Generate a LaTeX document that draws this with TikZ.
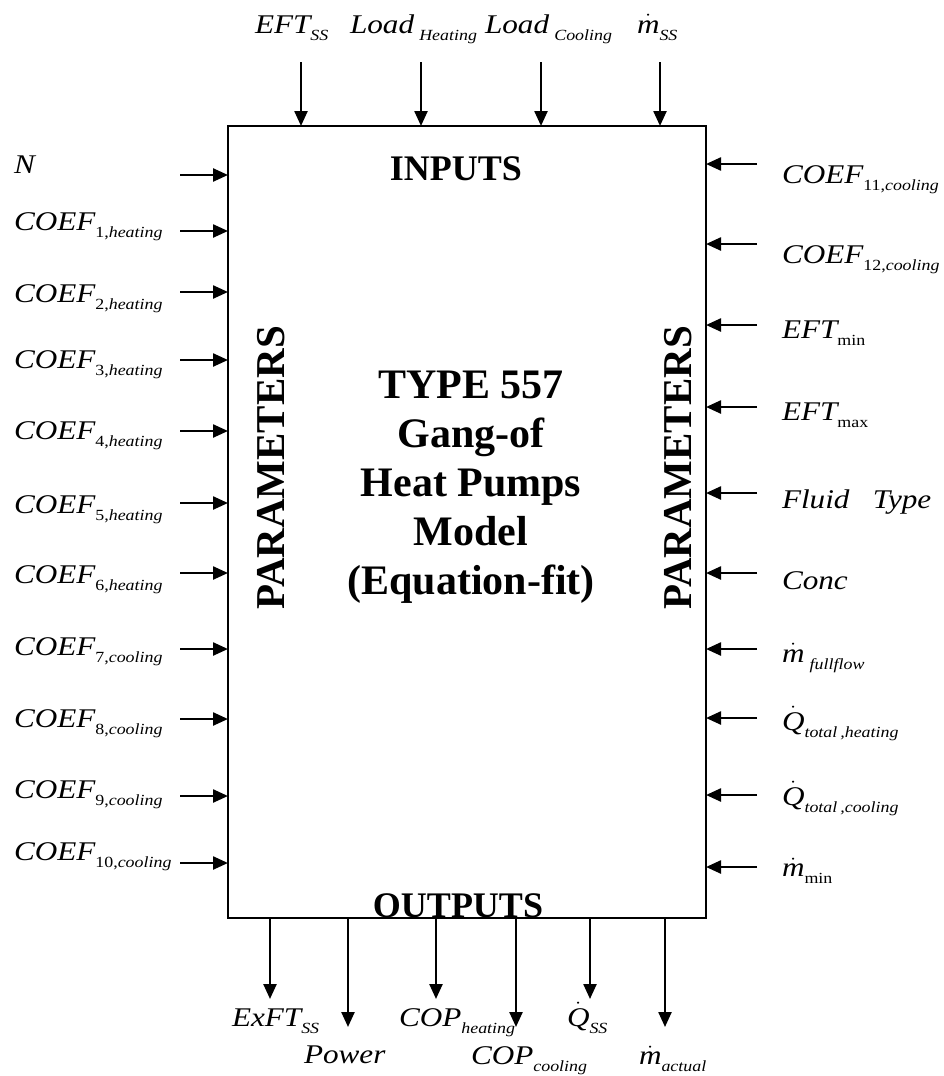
\documentclass[tikz,border=0pt]{standalone}
\usepackage{fontspec}
\setmainfont{Liberation Serif}
\usepackage{graphicx}
\usetikzlibrary{arrows.meta}
\newcommand{\mdot}[1]{\ensuremath{\dot{\hbox{#1}}}}
\newcommand{\lbl}[2]{\scalebox{1.155}[1]{\fontsize{27}{31}\selectfont\itshape #1\raisebox{-7pt}{\fontsize{15.5}{18}\selectfont #2}}}
\tikzset{
  lab/.style={anchor=base west, inner sep=0pt, outer sep=0pt},
  arr/.style={line width=2.4pt, -{Triangle[length=15pt,width=13pt]}},
  big/.style={font=\bfseries\fontsize{36}{40}\selectfont, inner sep=0pt},
  vert/.style={font=\bfseries\fontsize{41}{45}\selectfont, inner sep=0pt, rotate=90},
}
\begin{document}
\begin{tikzpicture}[x=1pt,y=-1pt]
\useasboundingbox (0,0) rectangle (944,1076);
% main box
\node[draw, line width=2pt, minimum width=478pt, minimum height=792pt, inner sep=0pt, outer sep=0pt, anchor=north west] (box) at (228,126) {};
% headings
\node[big, anchor=base] (inputs) at (456,180) {INPUTS};
\node[big, anchor=base] (outputs) at (458,917) {OUTPUTS};
\node[vert] (parL) at (271,468) {PARAMETERS};
\node[vert] (parR) at (678,468) {PARAMETERS};
\node[font=\bfseries\fontsize{42}{49}\selectfont, align=center, inner sep=0pt] (title) at (471,487) {TYPE 557\\Gang-of\\Heat Pumps\\ Model\\(Equation-fit)};
% top inputs
\node[lab] (t1) at (255,33) {\lbl{EFT}{SS}};
\node[lab] (t2) at (350,33) {\lbl{Load\,}{Heating}};
\node[lab] (t3) at (485,33) {\lbl{Load\,}{Cooling}};
\node[lab] (t4) at (637,33) {\lbl{\mdot{m}}{SS}};
\foreach \x [count=\i] in {301,421,541,660} {
  \coordinate (ti\i) at (\x,62);
  \draw[arr] (ti\i) -- (ti\i |- box.north);
}
% left parameters
\node[lab] (l1) at (14,173) {\lbl{N}{}};
\node[lab] (l2) at (14,230) {\lbl{COEF}{{\upshape 1,}heating}};
\node[lab] (l3) at (14,302) {\lbl{COEF}{{\upshape 2,}heating}};
\node[lab] (l4) at (14,368) {\lbl{COEF}{{\upshape 3,}heating}};
\node[lab] (l5) at (14,439) {\lbl{COEF}{{\upshape 4,}heating}};
\node[lab] (l6) at (14,513) {\lbl{COEF}{{\upshape 5,}heating}};
\node[lab] (l7) at (14,583) {\lbl{COEF}{{\upshape 6,}heating}};
\node[lab] (l8) at (14,655) {\lbl{COEF}{{\upshape 7,}cooling}};
\node[lab] (l9) at (14,727) {\lbl{COEF}{{\upshape 8,}cooling}};
\node[lab] (l10) at (14,798) {\lbl{COEF}{{\upshape 9,}cooling}};
\node[lab] (l11) at (14,860) {\lbl{COEF}{{\upshape 10,}cooling}};
\foreach \y [count=\i] in {175,231,292,360,431,503,573,649,719,796,863} {
  \coordinate (la\i) at (180,\y);
  \draw[arr] (la\i) -- (la\i -| box.west);
}
% right parameters
\node[lab] (r1) at (782,183) {\lbl{COEF}{{\upshape 11,}cooling}};
\node[lab] (r2) at (782,263) {\lbl{COEF}{{\upshape 12,}cooling}};
\node[lab] (r3) at (782,338) {\lbl{EFT}{\upshape min}};
\node[lab] (r4) at (782,420) {\lbl{EFT}{\upshape max}};
\node[lab] (r5) at (782,508) {\lbl{Fluid\ \ \ Type}{}};
\node[lab] (r6) at (782,589) {\lbl{Conc}{}};
\node[lab] (r7) at (782,662) {\lbl{\mdot{m}\,}{fullflow}};
\node[lab] (r8) at (782,730) {\lbl{\mdot{Q}}{total\,,heating}};
\node[lab] (r9) at (782,805) {\lbl{\mdot{Q}}{total\,,cooling}};
\node[lab] (r10) at (782,876) {\lbl{\mdot{m}}{\upshape min}};
\foreach \y [count=\i] in {164,244,325,407,493,573,649,718,795,867} {
  \coordinate (ra\i) at (757,\y);
  \draw[arr] (ra\i) -- (ra\i -| box.east);
}
% bottom outputs
\node[lab] (b1) at (232,1026) {\lbl{ExFT}{SS}};
\node[lab] (b2) at (304,1063) {\lbl{Power}{}};
\node[lab] (b3) at (399,1026) {\lbl{COP}{heating}};
\node[lab] (b4) at (471,1064) {\lbl{COP}{cooling}};
\node[lab] (b5) at (567,1026) {\lbl{\mdot{Q}}{SS}};
\node[lab] (b6) at (639,1064) {\lbl{\mdot{m}}{actual}};
\foreach \x/\e [count=\i] in {270/999,348/1027,436/999,516/1027,590/999,665/1027} {
  \coordinate (bo\i) at (\x,\e);
  \draw[arr] (bo\i |- box.south) -- (bo\i);
}
\end{tikzpicture}
\end{document}
